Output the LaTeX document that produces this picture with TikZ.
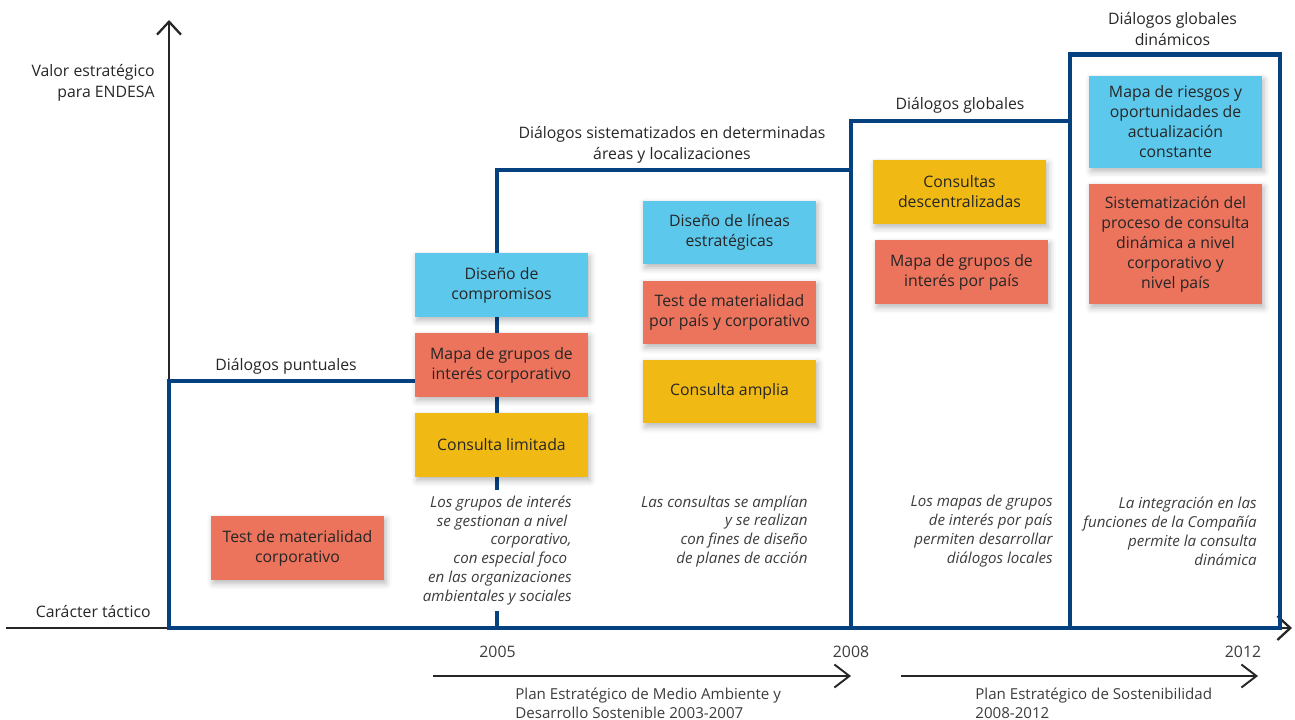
\documentclass[tikz,border=0pt]{standalone}
\usepackage{fontspec}
\setmainfont{Open Sans}
\usepackage{xcolor}
\usepackage{tikz}
\usetikzlibrary{arrows.meta,shadows.blur}
\definecolor{edsky}{HTML}{5CC8EC}
\definecolor{edcoral}{HTML}{EC735C}
\definecolor{edgold}{HTML}{F0B914}
\definecolor{ednavy}{HTML}{05407F}
\definecolor{edink}{HTML}{262626}
\definecolor{edgrey}{HTML}{3C3C3C}
\tikzset{
  actnode/.style={minimum width=3.46cm,minimum height=1.28cm,inner sep=2pt,align=center,text=edink,
    font=\fontsize{9}{11.4}\selectfont,
    blur shadow={shadow xshift=0.4mm,shadow yshift=-0.7mm,shadow blur radius=1.2mm,shadow opacity=28}},
  skynode/.style={actnode,fill=edsky},
  coralnode/.style={actnode,fill=edcoral},
  goldnode/.style={actnode,fill=edgold},
  stagebox/.style={draw=ednavy,line width=2.8pt},
  lbltxt/.style={align=center,text=edink,inner sep=0pt,font=\fontsize{9}{12}\selectfont},
  plantxt/.style={align=left,anchor=west,text=edgrey,inner sep=0pt,font=\fontsize{8.6}{10.8}\selectfont},
  notetxt/.style={align=right,anchor=east,text=edgrey,inner sep=0pt,font=\fontsize{8.6}{10.8}\itshape\selectfont},
  axisedge/.style={-{Straight Barb[length=2.6mm,width=4.8mm]},line width=1.3pt,edink},
  planedge/.style={-{Straight Barb[length=3mm,width=4.6mm]},line width=1.1pt,edink},
}

\begin{document}
\begin{tikzpicture}[x=0.02cm,y=-0.02cm]
  \useasboundingbox (0,0) rectangle (1295,720);
  \coordinate (o) at (169,628);
  \coordinate (yTop) at (169,20);
  \coordinate (xLeft) at (6,628);
  \coordinate (xEnd) at (1292,628);
  \draw[axisedge] (o) -- (yTop);
  \draw[axisedge] (xLeft) -- (xEnd);

  \draw[stagebox] (169,381) rectangle (497,628);
  \draw[stagebox] (497,170) rectangle (851,628);
  \draw[stagebox] (851,121) rectangle (1070,628);
  \draw[stagebox] (1070,54.5) rectangle (1280,628);

  \node[lbltxt,align=right,anchor=east] (yLbl) at (155,82.5) {Valor estratégico\\para ENDESA};
  \node[lbltxt,anchor=east] (xLbl) at (151,612) {Carácter táctico};
  \node[lbltxt] (sPunt) at (286,366) {Diálogos puntuales};
  \node[lbltxt] (sSist) at (672,144.5) {Diálogos sistematizados en determinadas\\áreas y localizaciones};
  \node[lbltxt] (sGlob) at (960,105) {Diálogos globales};
  \node[lbltxt] (sDin) at (1172.5,29) {Diálogos globales\\dinámicos};

  \node[skynode] (nDC) at (501.5,285) {Diseño de\\compromisos};
  \node[coralnode] (nMGC) at (501.5,365) {Mapa de grupos de\\interés corporativo};
  \node[goldnode] (nCL) at (501.5,445) {Consulta limitada};
  \node[coralnode] (nTMC) at (297.5,548) {Test de materialidad\\corporativo};
  \node[skynode] (nDL) at (729.5,232.5) {Diseño de líneas\\estratégicas};
  \node[coralnode] (nTMP) at (729.5,312.5) {Test de materialidad\\por país y corporativo};
  \node[goldnode] (nCA) at (729.5,391.5) {Consulta amplia};
  \node[goldnode] (nCD) at (959.5,192) {Consultas\\descentralizadas};
  \node[coralnode] (nMGP) at (961.5,272) {Mapa de grupos de\\interés por país};
  \node[skynode,minimum height=1.84cm] (nMR) at (1175.5,122) {Mapa de riesgos y\\oportunidades de\\actualización\\constante};
  \node[coralnode,minimum height=2.42cm] (nSP) at (1175.5,244) {Sistematización del\\proceso de consulta\\dinámica a nivel\\corporativo y\\nivel país};

  \node[notetxt,fill=white,inner ysep=3pt] (t05) at (572,550.5) {Los grupos de interés\\se gestionan a nivel\kern2.5pt\\corporativo,\\con especial foco\kern2.5pt\\en las organizaciones\\ambientales y sociales};
  \node[notetxt] (t07) at (808,531.5) {Las consultas se amplían\\y se realizan\\con fines de diseño\\de planes de acción};
  \node[notetxt] (t08) at (1053,531.5) {Los mapas de grupos\\de interés por país\\permiten desarrollar\\diálogos locales};
  \node[notetxt] (t12) at (1257,531.5) {La integración en las\\funciones de la Compañía\\permite la consulta\\dinámica};

  \node[lbltxt,text=edgrey] (y05) at (497.5,652) {2005};
  \node[lbltxt,text=edgrey] (y08) at (851,652) {2008};
  \node[lbltxt,text=edgrey] (y12) at (1243,652) {2012};

  \coordinate (p1s) at (433,676);
  \coordinate (p1e) at (851,676);
  \coordinate (p2s) at (901,676);
  \coordinate (p2e) at (1258,676);
  \draw[planedge] (p1s) -- (p1e);
  \draw[planedge] (p2s) -- (p2e);
  \node[plantxt] (pl1) at (515,703.5) {Plan Estratégico de Medio Ambiente y\\Desarrollo Sostenible 2003-2007};
  \node[plantxt] (pl2) at (975,703.5) {Plan Estratégico de Sostenibilidad\\2008-2012};
\end{tikzpicture}
\end{document}
